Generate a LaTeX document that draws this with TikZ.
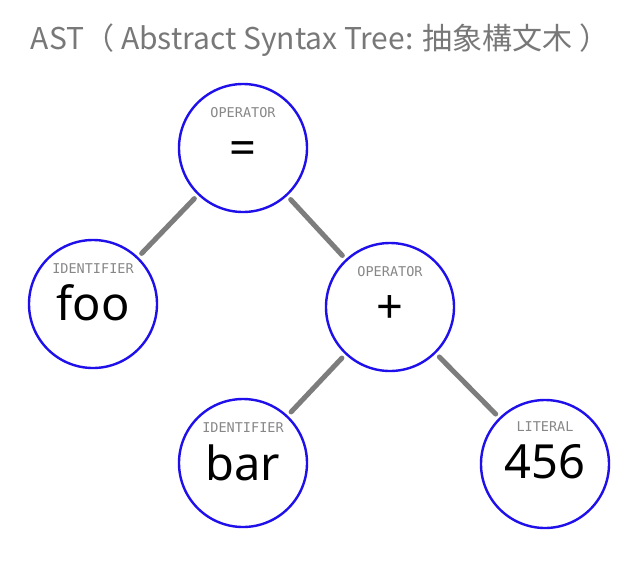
\documentclass[tikz,border=0pt]{standalone}
\usepackage{fontspec}
\setmainfont{Noto Sans}
\newfontfamily\cjkfont{Noto Sans CJK JP}
\newfontfamily\labfont{DejaVu Sans Mono}
\usetikzlibrary{calc}
\definecolor{nodeblue}{RGB}{30,15,235}
\definecolor{edgegray}{RGB}{125,125,125}
\definecolor{labgray}{RGB}{135,135,135}
\definecolor{titlegray}{RGB}{120,120,120}
\begin{document}
\begin{tikzpicture}[x=1pt,y=-1pt,
  astnode/.style={circle,draw=nodeblue,line width=2.4pt,minimum size=128pt,inner sep=0pt},
  kindlabel/.style={anchor=base,text=labgray,font=\labfont\fontsize{13.5}{15}\selectfont,inner sep=0pt},
  maintext/.style={anchor=base,text=black,font=\fontsize{47}{50}\selectfont,inner sep=0pt},
  edge/.style={draw=edgegray,line width=5pt,line cap=round,shorten <=5pt,shorten >=5pt},
  titletext/.style={anchor=base,text=titlegray,font=\cjkfont\fontsize{30}{34}\selectfont,inner sep=0pt}]
\useasboundingbox[fill=white] (0,0) rectangle (640,574);
\node[titletext] (title) at (320,49) {AST（ Abstract Syntax Tree: 抽象構文木 ）};
\node[astnode] (eq) at (243,148) {};
\node[astnode] (foo) at (93,304) {};
\node[astnode] (plus) at (390,307) {};
\node[astnode] (bar) at (243,463) {};
\node[astnode] (lit) at (545,464) {};
\node[kindlabel] (eqk) at ($(eq)+(0,-31)$) {OPERATOR};
\node[kindlabel] (fook) at ($(foo)+(0,-31)$) {IDENTIFIER};
\node[kindlabel] (plusk) at ($(plus)+(0,-31)$) {OPERATOR};
\node[kindlabel] (bark) at ($(bar)+(0,-31)$) {IDENTIFIER};
\node[kindlabel] (litk) at ($(lit)+(0,-33)$) {LITERAL};
\node[maintext] (eqt) at ($(eq)+(0,16)$) {=};
\node[maintext] (foot) at ($(foo)+(0,16)$) {foo};
\node[maintext] (plust) at ($(plus)+(0,16)$) {+};
\node[maintext] (bart) at ($(bar)+(0,17)$) {bar};
\node[maintext] (litt) at ($(lit)+(0,14)$) {456};
\draw[edge] (eq) -- (foo);
\draw[edge] (eq) -- (plus);
\draw[edge] (plus) -- (bar);
\draw[edge] (plus) -- (lit);
\end{tikzpicture}
\end{document}
